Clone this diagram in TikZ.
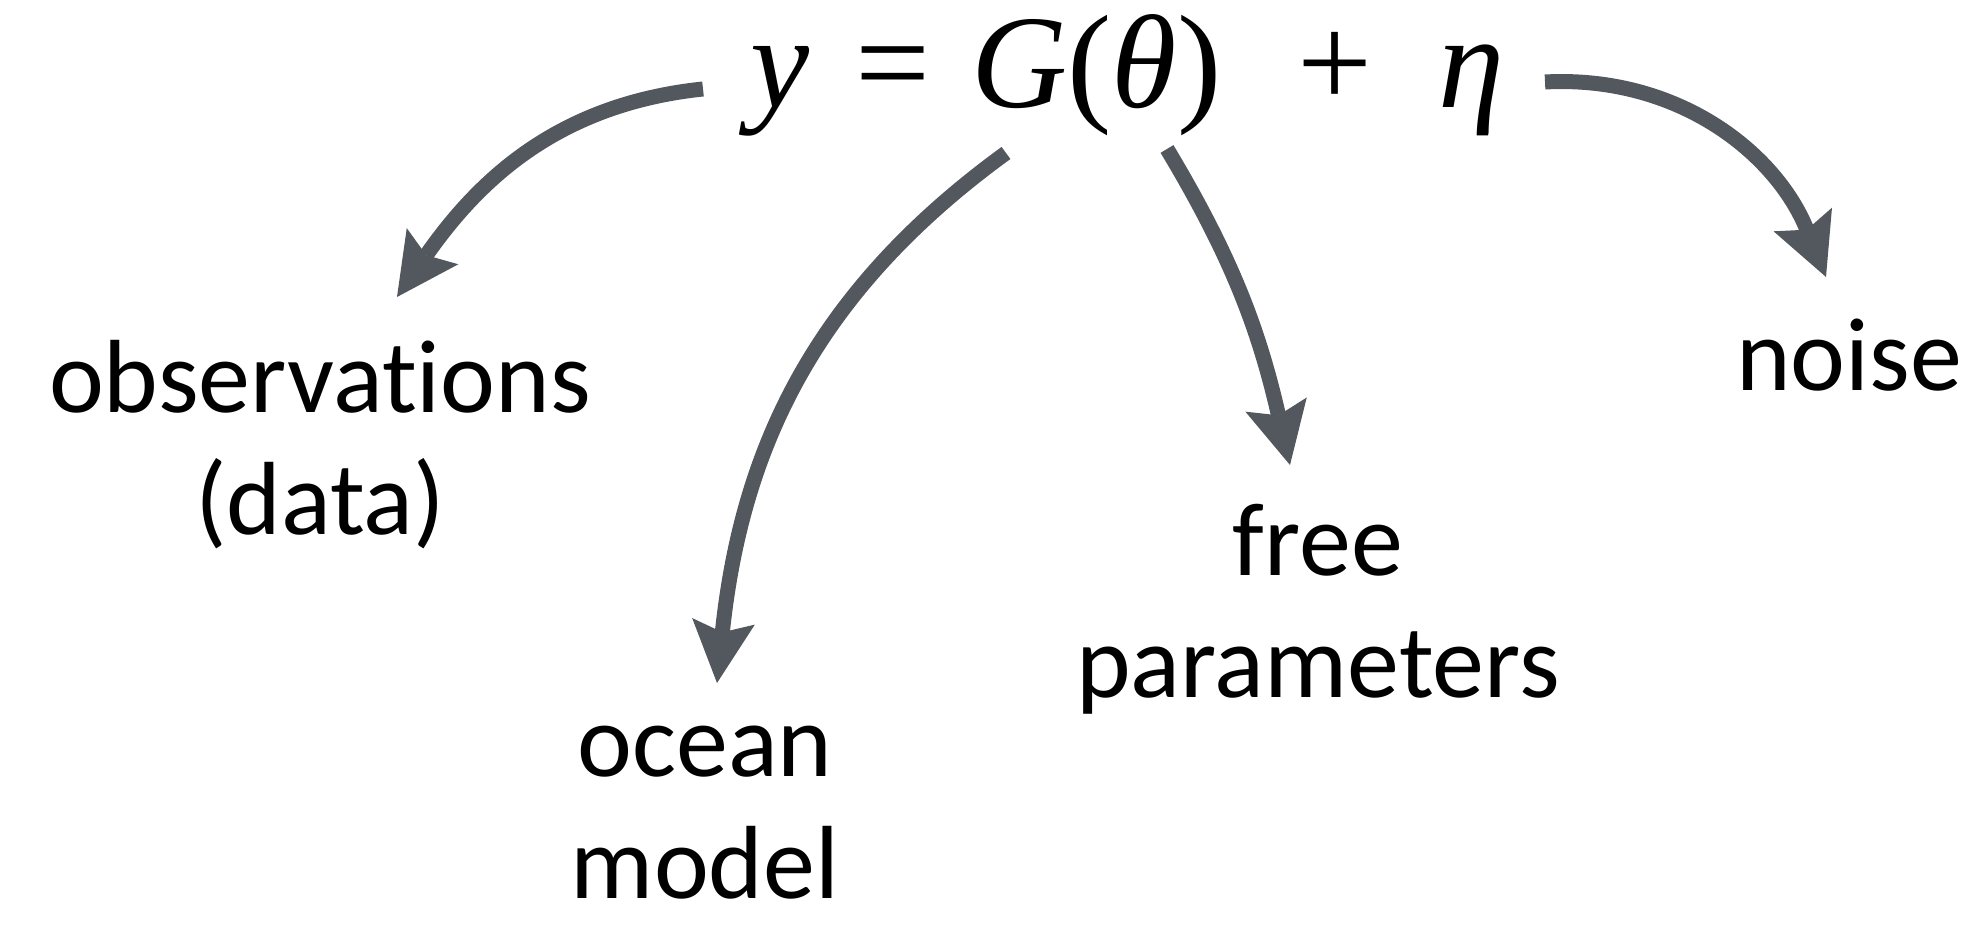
\documentclass[tikz,border=0pt]{standalone}
\usepackage{fontspec}
\setmainfont[Ligatures=NoCommon]{Carlito}
\newfontfamily\eqfont{Liberation Serif}
\usetikzlibrary{arrows.meta}
\definecolor{Agray}{RGB}{83,88,95}

\begin{document}
\begin{tikzpicture}[x=0.5pt,y=0.5pt,
  arr/.style={draw=Agray,line width=7.5pt,-{Stealth[length=31pt,width=31.5pt,inset=5.5pt,line width=0pt]}},
  lbl/.style={align=center,anchor=base,inner sep=0pt,font=\fontsize{52}{61}\selectfont}]
\path[use as bounding box] (0,0) rectangle (1972,925);
% the equation
\node[anchor=base west,inner sep=0pt,font=\eqfont\fontsize{66.5}{70}\selectfont] (eq) at (750,817)
  {\itshape y\upshape\hspace{23pt}=\hspace{20.5pt}\itshape G\upshape(\itshape θ\upshape)\hspace{38pt}+\hspace{33pt}\itshape η};
% labels (base = last line)
\node[lbl] (obs) at (320,390) {observations\\(data)};
\node[lbl] (ocean) at (705,26) {ocean\\model};
\node[lbl] (free) at (1318,227) {free\\parameters};
\node[lbl] (noise) at (1849,534) {noise};
% arrow ends
\coordinate (yL) at (703,836);
\coordinate (obsTip) at (397,628);
\coordinate (gS) at (1006,772);
\coordinate (oceanTip) at (717,242);
\coordinate (thS) at (1167,776);
\coordinate (freeTip) at (1290,460);
\coordinate (etaR) at (1545,843);
\coordinate (noiseTip) at (1826,648);
\draw[arr] (yL) to[out=186,in=55] (obsTip);
\draw[arr] (gS) to[out=216,in=84] (oceanTip);
\draw[arr] (thS) to[out=-59,in=103] (freeTip);
\draw[arr] (etaR) to[out=3,in=112] (noiseTip);
\end{tikzpicture}
\end{document}
